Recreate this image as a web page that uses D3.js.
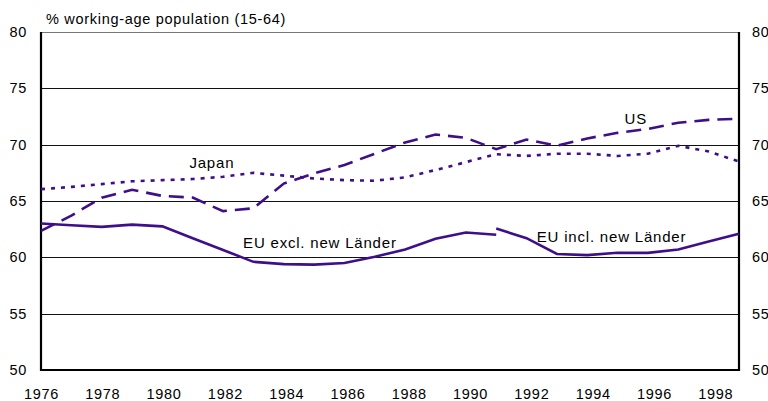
<!DOCTYPE html>
<html>
<head>
<meta charset="utf-8">
<script src="https://cdn.jsdelivr.net/npm/d3@7"></script>
<style>
  body { margin: 0; background: #fff; }
  svg { font-family: "Liberation Sans", Arial, sans-serif; }
</style>
</head>
<body>
<div id="chart"></div>
<script>
const years = d3.range(1976, 2000);
const yTicks = [50, 55, 60, 65, 70, 75, 80];
const xTicks = d3.range(1976, 1999, 2);

// EU excluding new Länder, 1976-1991
const euExclYears = d3.range(1976, 1992);
const euExcl = [63.0, 62.85, 62.7, 62.9, 62.75, 61.7, 60.65, 59.6, 59.4, 59.35, 59.5, 60.05, 60.7, 61.65, 62.2, 62.0];
// EU including new Länder, 1991-1999
const euInclYears = d3.range(1991, 2000);
const euIncl = [62.55, 61.7, 60.3, 60.2, 60.4, 60.4, 60.7, 61.4, 62.1];
const us = [62.35, 63.7, 65.3, 66.0, 65.45, 65.3, 64.1, 64.35, 66.55, 67.45, 68.2, 69.2, 70.2, 70.9, 70.6, 69.6, 70.45, 69.9, 70.55, 71.05, 71.4, 71.95, 72.2, 72.3];
const japan = [66.05, 66.25, 66.5, 66.75, 66.85, 66.95, 67.15, 67.5, 67.25, 67.0, 66.85, 66.8, 67.1, 67.75, 68.45, 69.15, 69.0, 69.2, 69.2, 69.0, 69.2, 69.9, 69.4, 68.5];

const width = 768, height = 401;
const mLeft = 41, mRight = 739, mTop = 32, mBottom = 370;
const color = "#3f0f8a";
const font = "Liberation Sans, Arial, sans-serif";

const svg = d3.select("#chart").append("svg")
  .attr("width", width)
  .attr("height", height);

const x = d3.scaleLinear().domain([1976, 1999]).range([mLeft, mRight]);
const y = d3.scaleLinear().domain([50, 80]).range([mBottom, mTop]);

// gridlines
svg.append("g")
  .selectAll("line")
  .data(yTicks.filter(d => d > 50))
  .join("line")
  .attr("x1", mLeft).attr("x2", mRight)
  .attr("y1", d => Math.round(y(d)) + 0.5)
  .attr("y2", d => Math.round(y(d)) + 0.5)
  .attr("stroke", d => d === 80 ? "#777" : "#111")
  .attr("stroke-width", 1);

// frame: left, right, bottom thick
svg.append("path")
  .attr("d", `M${mLeft},${mTop}V${mBottom}H${mRight}V${mTop}`)
  .attr("fill", "none")
  .attr("stroke", "#000")
  .attr("stroke-width", 2.2);

function styleText(sel) {
  sel.attr("font-size", 14.5).attr("letter-spacing", 0.7)
    .attr("fill", "#000").attr("font-family", font);
}

const yAxisL = d3.axisLeft(y).tickValues(yTicks).tickSize(0).tickPadding(14);
svg.append("g").attr("transform", `translate(${mLeft},0)`).call(yAxisL)
  .call(g => g.select(".domain").remove())
  .selectAll("text").call(styleText);

const yAxisR = d3.axisRight(y).tickValues(yTicks).tickSize(0).tickPadding(13);
svg.append("g").attr("transform", `translate(${mRight},0)`).call(yAxisR)
  .call(g => g.select(".domain").remove())
  .selectAll("text").call(styleText);

const xAxis = d3.axisBottom(x).tickValues(xTicks).tickFormat(d3.format("d")).tickSize(0).tickPadding(19);
svg.append("g").attr("transform", `translate(0,${mBottom})`).call(xAxis)
  .call(g => g.select(".domain").remove())
  .selectAll("text").call(styleText)
  .attr("dx", d => (d - 1976) * 0.3);

const line = d3.line().x(d => x(d[0])).y(d => y(d[1]));

function drawLine(xs, vals, dash) {
  svg.append("path")
    .datum(d3.zip(xs, vals))
    .attr("d", line)
    .attr("fill", "none")
    .attr("stroke", color)
    .attr("stroke-width", 2.6)
    .attr("stroke-dasharray", dash);
}

drawLine(years, japan, "4,6");
drawLine(years, us, "15,8");
drawLine(euExclYears, euExcl, null);
drawLine(euInclYears, euIncl, null);

// labels
svg.append("text").attr("x", 46).attr("y", 24)
  .call(styleText)
  .text("% working-age population (15-64)");

const labels = [
  { t: "Japan", yr: 1981.63, v: 67.9 },
  { t: "US", yr: 1995.6, v: 71.83 },
  { t: "EU excl. new Länder", yr: 1985.19, v: 60.85 },
  { t: "EU incl. new Länder", yr: 1994.8, v: 61.38 }
];
svg.append("g").selectAll("text").data(labels).join("text")
  .attr("x", d => x(d.yr))
  .attr("y", d => y(d.v))
  .attr("text-anchor", "middle")
  .attr("font-size", 15)
  .attr("letter-spacing", 0.8)
  .attr("font-family", font)
  .attr("fill", "#000")
  .text(d => d.t);
</script>
</body>
</html>
